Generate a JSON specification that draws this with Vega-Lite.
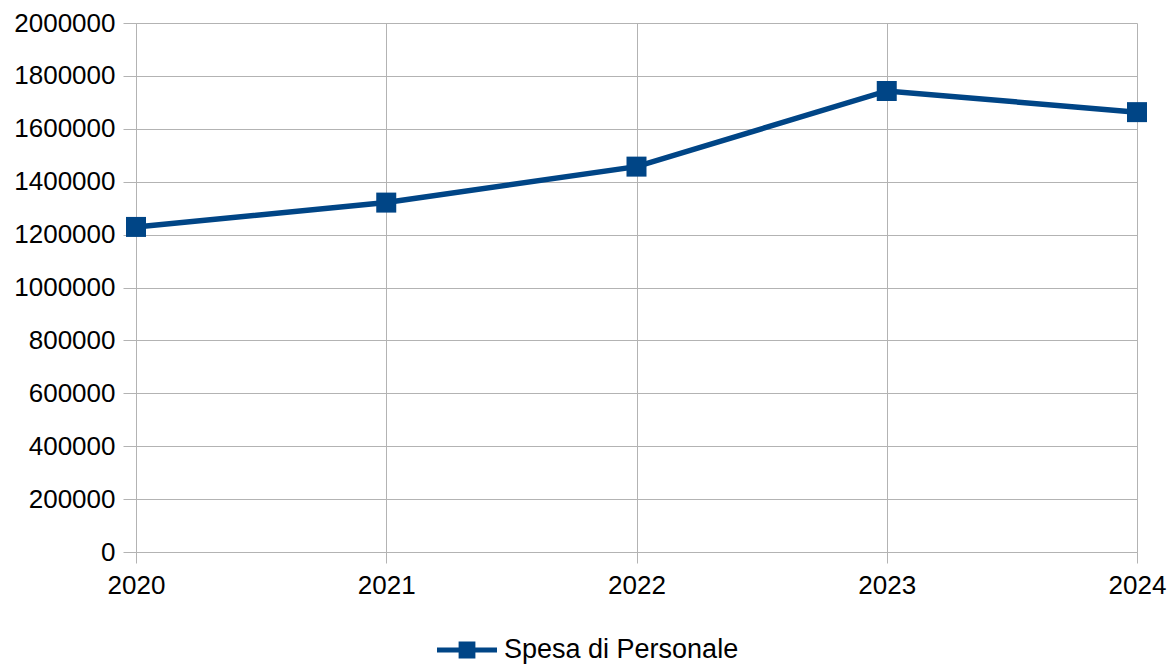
{
  "$schema": "https://vega.github.io/schema/vega-lite/v6.json",
  "autosize": "none",
  "padding": {"left": 136, "top": 23, "right": 32, "bottom": 112},
  "width": 1001,
  "height": 529,
  "background": "white",
  "config": {
    "font": "Liberation Sans",
    "view": {"stroke": null}
  },
  "data": {
    "values": [
      {"anno": 2020, "valore": 1229000, "serie": "Spesa di Personale"},
      {"anno": 2021, "valore": 1321000, "serie": "Spesa di Personale"},
      {"anno": 2022, "valore": 1457000, "serie": "Spesa di Personale"},
      {"anno": 2023, "valore": 1743000, "serie": "Spesa di Personale"},
      {"anno": 2024, "valore": 1663000, "serie": "Spesa di Personale"}
    ]
  },
  "mark": {
    "type": "line",
    "strokeWidth": 5.5,
    "point": {"shape": "square", "size": 400, "filled": true, "opacity": 1}
  },
  "encoding": {
    "x": {
      "field": "anno",
      "type": "quantitative",
      "scale": {"domain": [2020, 2024], "nice": false, "zero": false},
      "axis": {
        "title": null,
        "values": [2020, 2021, 2022, 2023, 2024],
        "format": "d",
        "labelFontSize": 26,
        "labelColor": "#000000",
        "labelPadding": 9,
        "tickSize": 11,
        "tickColor": "#b3b3b3",
        "domainColor": "#b3b3b3",
        "gridColor": "#b3b3b3",
        "grid": true,
        "labelFlush": false
      }
    },
    "y": {
      "field": "valore",
      "type": "quantitative",
      "scale": {"domain": [0, 2000000], "nice": false},
      "axis": {
        "title": null,
        "values": [0, 200000, 400000, 600000, 800000, 1000000, 1200000, 1400000, 1600000, 1800000, 2000000],
        "format": "d",
        "labelFontSize": 26,
        "labelColor": "#000000",
        "labelPadding": 8,
        "tickSize": 13,
        "tickColor": "#b3b3b3",
        "domainColor": "#b3b3b3",
        "gridColor": "#b3b3b3",
        "grid": true,
        "labelFlush": false
      }
    },
    "color": {
      "field": "serie",
      "type": "nominal",
      "scale": {"range": ["#004586"]},
      "legend": {
        "title": null,
        "orient": "none",
        "legendX": 301,
        "legendY": 597,
        "labelFontSize": 27,
        "labelLimit": 0,
        "labelColor": "#000000",
        "symbolType": "M-1,-0.08H1V0.08H-1Z M-0.28,-0.28H0.28V0.28H-0.28Z",
        "symbolSize": 3600,
        "symbolFillColor": "#004586",
        "symbolStrokeColor": "#004586",
        "symbolStrokeWidth": 0,
        "labelOffset": 7
      }
    }
  }
}
